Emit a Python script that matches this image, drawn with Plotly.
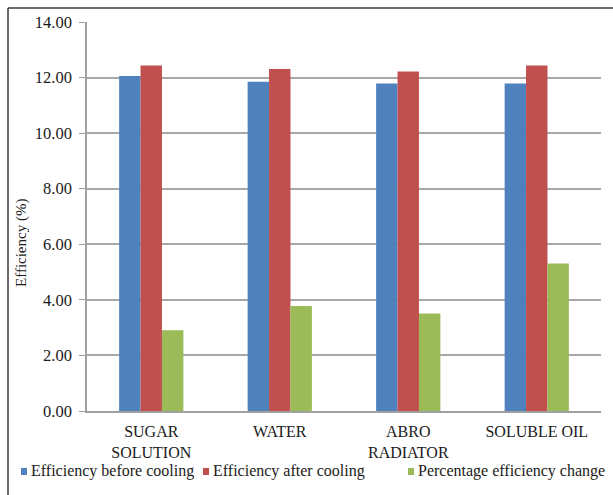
import plotly.graph_objects as go

categories = ["SUGAR<br>SOLUTION", "WATER", "ABRO<br>RADIATOR", "SOLUBLE OIL"]
eff_before = [12.06, 11.85, 11.79, 11.79]
eff_after = [12.43, 12.31, 12.22, 12.43]
pct_change = [2.91, 3.78, 3.51, 5.31]

series_names = ["Efficiency before cooling", "Efficiency after cooling",
                "Percentage efficiency change"]
series_colors = ["#4F81BD", "#C0504D", "#9BBB59"]

y_ticks = [0, 2, 4, 6, 8, 10, 12, 14]
y_tick_text = [f"{v:.2f}" for v in y_ticks]

W, H = 613, 495
ML, MR, MT, MB = 87, 12, 22, 84
PW, PH = W - ML - MR, H - MT - MB

FONT = "Liberation Serif"
TXT = "#1a1a1a"

fig = go.Figure()
for name, vals, col in zip(series_names, [eff_before, eff_after, pct_change], series_colors):
    fig.add_trace(go.Bar(name=name, x=categories, y=vals,
                         marker=dict(color=col, line=dict(width=0)),
                         showlegend=False))

def px_x(px):
    return (px - ML) / PW

def px_y(py):
    return (H - MB - py) / PH

# frame lines along the top and left edges
frame = dict(color="#3a3a3a", width=1.5)
fig.add_shape(type="line", xref="paper", yref="paper",
              x0=px_x(8), x1=px_x(W + 5), y0=px_y(8), y1=px_y(8), line=frame)
fig.add_shape(type="line", xref="paper", yref="paper",
              x0=px_x(8), x1=px_x(8), y0=px_y(8), y1=px_y(H + 5), line=frame)

# legend row: small colour square followed by the series name
legend_x = [21, 203, 408]
legend_y = 471
for lx, name, col in zip(legend_x, series_names, series_colors):
    fig.add_shape(type="rect", xref="paper", yref="paper",
                  x0=px_x(lx), x1=px_x(lx + 6), y0=px_y(legend_y + 4), y1=px_y(legend_y - 3),
                  fillcolor=col, line=dict(width=0))
    fig.add_annotation(xref="paper", yref="paper", x=px_x(lx + 8), y=px_y(legend_y),
                       xanchor="left", yanchor="middle", showarrow=False,
                       text=name, font=dict(family=FONT, size=16, color=TXT))

# y-axis title
fig.add_annotation(xref="paper", yref="paper", x=px_x(22), y=px_y(243),
                   xanchor="center", yanchor="middle", showarrow=False, textangle=-90,
                   text="Efficiency (%)", font=dict(family=FONT, size=15, color=TXT))

fig.update_layout(
    width=W, height=H,
    margin=dict(l=ML, r=MR, t=MT, b=MB, autoexpand=False),
    paper_bgcolor="white", plot_bgcolor="white",
    barmode="group", bargap=0.5, bargroupgap=0,
    font=dict(family=FONT, size=16, color=TXT),
    showlegend=False,
    xaxis=dict(
        showgrid=False, showline=True, linecolor="#a0a0a0", linewidth=1.5,
        ticks="", ticklabelstandoff=5,
        tickfont=dict(family=FONT, size=16, color=TXT),
    ),
    yaxis=dict(
        range=[0, 14], tickvals=y_ticks, ticktext=y_tick_text,
        showgrid=True, gridcolor="#a8a8a8", gridwidth=1.5,
        showline=True, linecolor="#a0a0a0", linewidth=1.5,
        ticks="outside", ticklen=6, tickcolor="#a0a0a0", tickwidth=1.2,
        ticklabelstandoff=4,
        tickfont=dict(family=FONT, size=16.5, color=TXT),
        zeroline=False,
    ),
)

fig.write_html("out.html")
